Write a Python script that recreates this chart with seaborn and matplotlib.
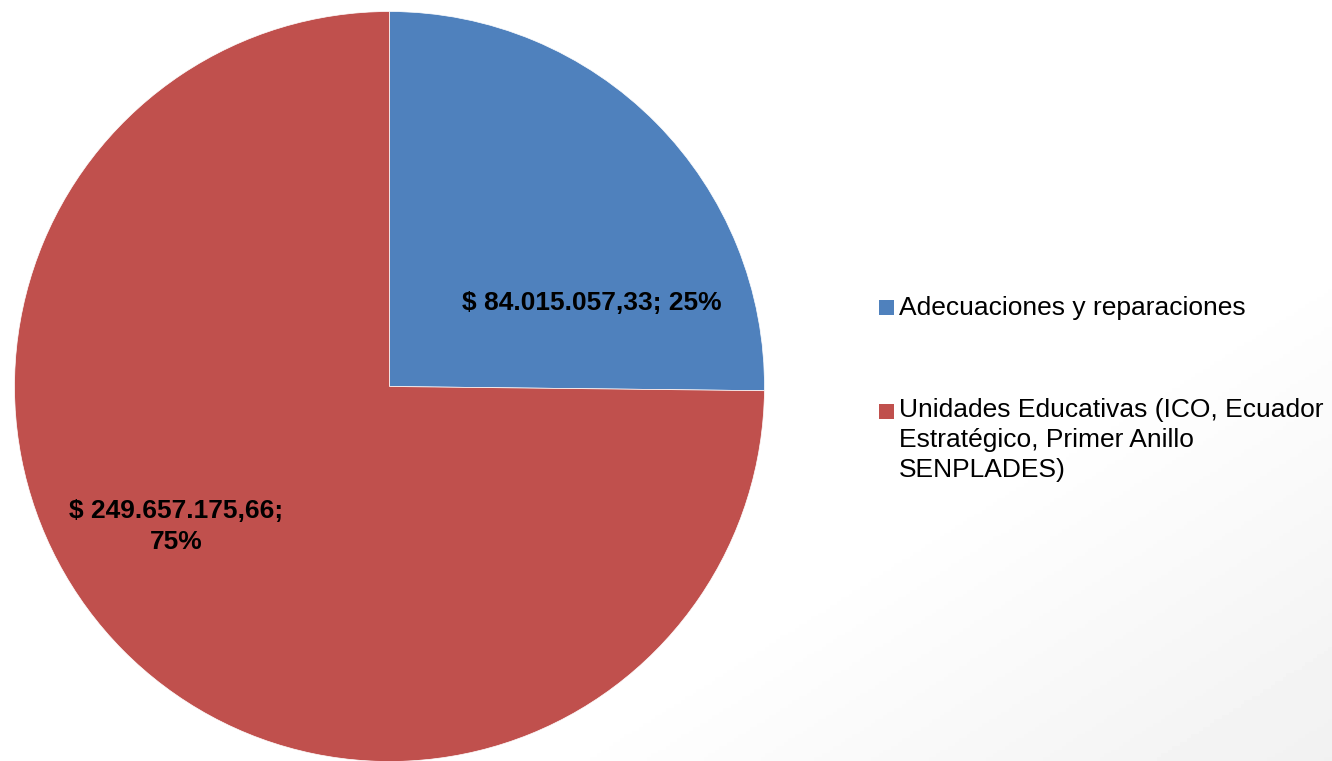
import numpy as np
import matplotlib
matplotlib.use("Agg")
import matplotlib.pyplot as plt
from matplotlib.patches import Rectangle
import seaborn as sns

# ---- data ----
categories = ["Adecuaciones y reparaciones",
              "Unidades Educativas (ICO, Ecuador\nEstratégico, Primer Anillo\nSENPLADES)"]
values = [84015057.33, 249657175.66]
colors = ["#4F81BD", "#C0504D"]

sns.set_theme(style="white")
plt.rcParams['font.family'] = ['Liberation Sans', 'DejaVu Sans']

W, H = 1332, 761
fig = plt.figure(figsize=(W / 100, H / 100), dpi=100)
fig.patch.set_facecolor("white")

# faint slide background gradient (bottom-right corner)
bg = fig.add_axes([0, 0, 1, 1], zorder=0)
yy, xx = np.mgrid[0:1:200j, 0:1:350j]   # yy=0 top row, 1 bottom row
g = np.clip((xx * 1.0 + yy * 0.9 - 1.3) / 0.6, 0, 1)
img = 1 - 0.055 * g
bg.imshow(img, cmap="gray", vmin=0, vmax=1, extent=[0, 1, 0, 1], aspect="auto", origin="upper")
bg.set_axis_off()

# pie axes: center (389.5, 386.5) px, radius ~375 px
r_px = 375
cx, cy = 389.5, H - 386.5
ax = fig.add_axes([(cx - r_px) / W, (cy - r_px) / H, 2 * r_px / W, 2 * r_px / H], zorder=1)
ax.patch.set_alpha(0)
wedges, _ = ax.pie(values, colors=colors, startangle=90, counterclock=False,
                   radius=1.0, wedgeprops=dict(edgecolor="white", linewidth=0.5))
ax.set_xlim(-1, 1)
ax.set_ylim(-1, 1)
ax.set_aspect("equal")
ax.set_axis_off()


def fmt_money(v):
    s = f"{v:,.2f}"
    return "$ " + s.replace(",", "X").replace(".", ",").replace("X", ".")


total = sum(values)
pcts = [round(v / total * 100) for v in values]

lab0 = f"{fmt_money(values[0])}; {pcts[0]}%"
lab1 = f"{fmt_money(values[1])};\n{pcts[1]}%"
ax.text((591.5 - 389.5) / r_px, (386.5 - 302.5) / r_px, lab0, ha="center", va="center",
        fontsize=19, fontweight="bold", color="black")
ax.text((176 - 389.5) / r_px, (386.5 - 526.5) / r_px, lab1, ha="center", va="center",
        fontsize=19, fontweight="bold", color="black", linespacing=1.42, multialignment="center")

# legend drawn manually
leg_y = [307.5, 411.5]
for lab, col, y in zip(categories, colors, leg_y):
    fig.patches.append(Rectangle((879 / W, (H - y - 7.5) / H), 15 / W, 15 / H,
                                 transform=fig.transFigure, facecolor=col, edgecolor="none",
                                 zorder=3))
    if "\n" in lab:
        fig.text(899 / W, (H - 412 + 13.5) / H, lab, ha="left", va="top",
                 fontsize=19, color="black", zorder=3, linespacing=1.31)
    else:
        fig.text(899 / W, (H - y) / H, lab, ha="left", va="center",
                 fontsize=19, color="black", zorder=3)

fig.savefig("out.png", dpi=100, facecolor="white")
